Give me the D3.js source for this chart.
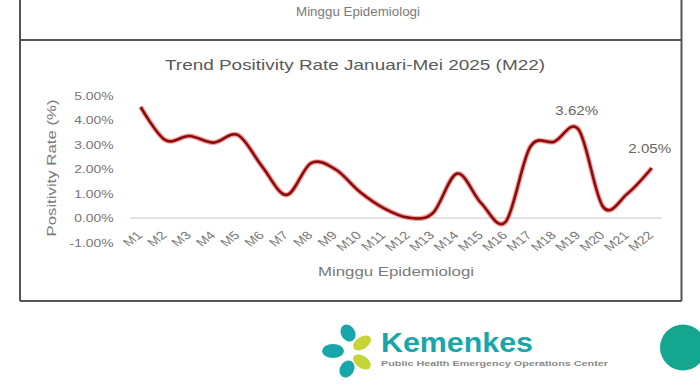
<!DOCTYPE html>
<html>
<head>
<meta charset="utf-8">
<script src="https://cdn.jsdelivr.net/npm/d3@7"></script>
<style>
  body { margin: 0; background: #fff; }
  svg { display: block; font-family: "Liberation Sans", Arial, sans-serif; }
</style>
</head>
<body>
<div id="chart"></div>
<script>
// Chart data
const weeks = ["M1","M2","M3","M4","M5","M6","M7","M8","M9","M10","M11",
               "M12","M13","M14","M15","M16","M17","M18","M19","M20","M21","M22"];
const positivity = [4.55, 3.2, 3.36, 3.09, 3.4, 2.1, 0.95, 2.25, 2.0, 1.08, 0.4,
                    0.02, 0.2, 1.82, 0.6, -0.15, 2.9, 3.13, 3.62, 0.46, 1.0, 2.05];
const yTicks = [-1, 0, 1, 2, 3, 4, 5];
const labelled = ["M19", "M22"];

const chartTitle = "Trend Positivity Rate Januari-Mei 2025 (M22)";
const xTitle = "Minggu Epidemiologi";
const yTitle = "Positivity Rate (%)";

// the screenshot is stretched sideways a bit
const stretch = 1.26;

const width = 700, height = 386;
const svg = d3.select("#chart").append("svg")
    .attr("width", width)
    .attr("height", height);

// Frame of the slide panels
const frame = svg.append("g")
    .attr("stroke", "#555")
    .attr("stroke-width", 2);
frame.append("line").attr("x1", 20).attr("x2", 20).attr("y1", 0).attr("y2", 301);
frame.append("line").attr("x1", 681.5).attr("x2", 681.5).attr("y1", 0).attr("y2", 301);
frame.append("line").attr("x1", 20).attr("x2", 681.5).attr("y1", 40).attr("y2", 40);
frame.append("line").attr("x1", 20).attr("x2", 681.5).attr("y1", 301).attr("y2", 301);

// leftover axis title from the panel above
svg.append("text")
    .attr("x", 358)
    .attr("y", 16)
    .attr("text-anchor", "middle")
    .attr("textLength", 124)
    .attr("lengthAdjust", "spacingAndGlyphs")
    .style("font-size", "13px")
    .style("fill", "#7a7a7a")
    .text(xTitle);

// Scales
const x = d3.scalePoint()
    .domain(weeks)
    .range([128.5, 663.9])
    .padding(0.5);

const y = d3.scaleLinear()
    .domain([-1, 5])
    .range([242.5, 96]);

// Title
svg.append("text")
    .attr("x", 355)
    .attr("y", 70)
    .attr("text-anchor", "middle")
    .attr("textLength", 380)
    .attr("lengthAdjust", "spacingAndGlyphs")
    .style("font-size", "15px")
    .style("fill", "#595959")
    .text(chartTitle);

// Zero line
svg.append("line")
    .attr("x1", 130)
    .attr("x2", 662)
    .attr("y1", y(0))
    .attr("y2", y(0))
    .attr("stroke", "#d9d9d9")
    .attr("stroke-width", 1.5);

// Y axis
const yAxis = d3.axisLeft(y)
    .tickValues(yTicks)
    .tickSize(0)
    .tickPadding(2)
    .tickFormat(d => d.toFixed(2) + "%");

const yAxisG = svg.append("g")
    .attr("transform", "translate(116,0)")
    .call(yAxis);
yAxisG.select(".domain").remove();
yAxisG.selectAll("text")
    .attr("transform", `scale(${stretch},1)`)
    .style("font-size", "11px")
    .style("font-family", "Liberation Sans, Arial, sans-serif")
    .style("fill", "#767676");

// X axis
const xAxis = d3.axisBottom(x).tickSize(0);
const xAxisG = svg.append("g")
    .attr("transform", "translate(0,236)")
    .call(xAxis);
xAxisG.select(".domain").remove();
xAxisG.selectAll("text")
    .attr("x", null)
    .attr("y", null)
    .attr("dy", null)
    .attr("transform", `translate(2,0) scale(${stretch},1) rotate(-45)`)
    .style("text-anchor", "end")
    .style("font-size", "11.5px")
    .style("font-family", "Liberation Sans, Arial, sans-serif")
    .style("fill", "#767676");

// Axis titles
svg.append("text")
    .attr("x", 396)
    .attr("y", 276)
    .attr("text-anchor", "middle")
    .attr("textLength", 156)
    .attr("lengthAdjust", "spacingAndGlyphs")
    .style("font-size", "13px")
    .style("fill", "#7a7a7a")
    .text(xTitle);

svg.append("text")
    .attr("transform", "translate(56,168) rotate(-90)")
    .attr("text-anchor", "middle")
    .attr("textLength", 137)
    .attr("lengthAdjust", "spacingAndGlyphs")
    .style("font-size", "13px")
    .style("fill", "#7a7a7a")
    .text(yTitle);

// Line (Excel style smoothing)
const points = weeks.map((w, i) => ({week: w, value: positivity[i]}));
const line = d3.line()
    .x(d => x(d.week))
    .y(d => y(d.value))
    .curve(d3.curveCardinal.tension(0));

svg.append("path")
    .datum(points)
    .attr("fill", "none")
    .attr("stroke", "#e52a2a")
    .attr("stroke-opacity", 0.45)
    .attr("stroke-width", 5)
    .attr("stroke-linejoin", "round")
    .attr("d", line);

svg.append("path")
    .datum(points)
    .attr("fill", "none")
    .attr("stroke", "#8c0c0c")
    .attr("stroke-width", 2.6)
    .attr("stroke-linejoin", "round")
    .attr("d", line);

// Data labels
svg.selectAll(".data-label")
    .data(points.filter(d => labelled.includes(d.week)))
    .join("text")
    .attr("class", "data-label")
    .attr("text-anchor", "middle")
    .attr("transform", d => `translate(${x(d.week) - 2},${y(d.value) - 15}) scale(${stretch},1)`)
    .style("font-size", "12px")
    .style("fill", "#666")
    .text(d => d.value.toFixed(2) + "%");

// Kemenkes logo at the bottom
const logo = svg.append("g");
const teal = "#17a7ab", lime = "#c5d437";
logo.append("ellipse").attr("cx", 333).attr("cy", 351).attr("rx", 11).attr("ry", 7).attr("fill", teal);
logo.append("ellipse").attr("cx", 348).attr("cy", 333).attr("rx", 7).attr("ry", 9).attr("fill", teal)
    .attr("transform", "rotate(-30,348,333)");
logo.append("ellipse").attr("cx", 347).attr("cy", 369).attr("rx", 7).attr("ry", 9).attr("fill", teal)
    .attr("transform", "rotate(30,347,369)");
logo.append("ellipse").attr("cx", 362).attr("cy", 343).attr("rx", 10).attr("ry", 6).attr("fill", lime)
    .attr("transform", "rotate(-35,362,343)");
logo.append("ellipse").attr("cx", 362).attr("cy", 362).attr("rx", 10).attr("ry", 6).attr("fill", lime)
    .attr("transform", "rotate(35,362,362)");
logo.append("text")
    .attr("x", 381)
    .attr("y", 352)
    .attr("textLength", 152)
    .attr("lengthAdjust", "spacingAndGlyphs")
    .style("font-size", "27px")
    .style("font-weight", "bold")
    .style("fill", teal)
    .text("Kemenkes");
logo.append("text")
    .attr("x", 381)
    .attr("y", 366)
    .attr("textLength", 227)
    .attr("lengthAdjust", "spacingAndGlyphs")
    .style("font-size", "8px")
    .style("font-weight", "bold")
    .style("fill", "#8a8a8a")
    .text("Public Health Emergency Operations Center");

svg.append("circle")
    .attr("cx", 683)
    .attr("cy", 347.5)
    .attr("r", 23)
    .attr("fill", "#15a68f");
</script>
</body>
</html>
